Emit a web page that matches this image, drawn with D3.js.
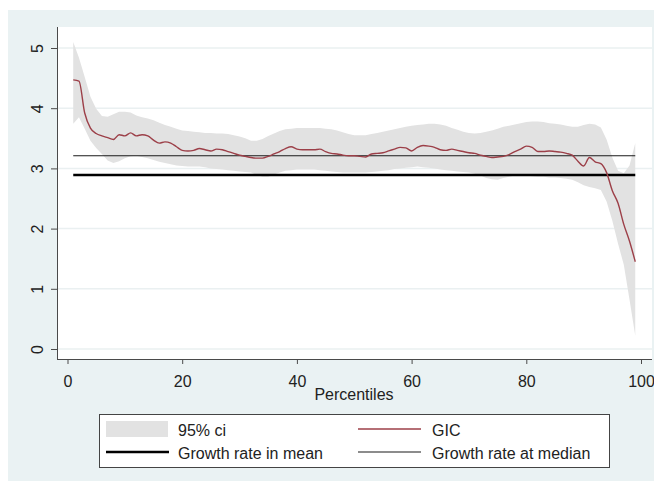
<!DOCTYPE html>
<html>
<head>
<meta charset="utf-8">
<script src="https://cdn.jsdelivr.net/npm/d3@7"></script>
<style>
  body { margin: 0; background: #fff; }
  svg { display: block; font-family: "Liberation Sans", Arial, sans-serif; }
  .axis path, .axis line { stroke: #4a4a4a; }
  .axis text { font-size: 16px; fill: #222; }
</style>
</head>
<body>
<div id="gic"></div>
<script>
// percentiles 1..99 on the x axis
const percentiles = d3.range(1, 100);

// growth incidence curve
const gic = [
  4.47, 4.45, 3.92, 3.67, 3.58, 3.54, 3.51, 3.48, 3.56, 3.54,
  3.59, 3.54, 3.56, 3.54, 3.47, 3.42, 3.44, 3.42, 3.36, 3.30,
  3.29, 3.30, 3.33, 3.31, 3.29, 3.32, 3.31, 3.28, 3.25, 3.22,
  3.20, 3.18, 3.17, 3.17, 3.20, 3.24, 3.28, 3.33, 3.36, 3.32,
  3.31, 3.31, 3.31, 3.32, 3.28, 3.25, 3.24, 3.22, 3.21, 3.21,
  3.20, 3.19, 3.24, 3.25, 3.26, 3.29, 3.32, 3.35, 3.34, 3.29,
  3.35, 3.38, 3.37, 3.35, 3.31, 3.30, 3.32, 3.30, 3.28, 3.26,
  3.25, 3.22, 3.20, 3.18, 3.19, 3.20, 3.23, 3.28, 3.32, 3.37,
  3.35, 3.28, 3.28, 3.29, 3.28, 3.27, 3.25, 3.22, 3.12, 3.04,
  3.18, 3.11, 3.08, 2.93, 2.63, 2.42, 2.07, 1.79, 1.45
];

// 95% confidence interval
const ciUpper = [
  5.10, 4.84, 4.52, 4.19, 3.99, 3.87, 3.86, 3.90, 3.94, 3.94,
  3.93, 3.88, 3.85, 3.83, 3.80, 3.76, 3.72, 3.69, 3.66, 3.63,
  3.62, 3.61, 3.60, 3.59, 3.59, 3.58, 3.58, 3.57, 3.55, 3.53,
  3.50, 3.46, 3.46, 3.49, 3.54, 3.58, 3.62, 3.65, 3.66, 3.67,
  3.67, 3.67, 3.67, 3.67, 3.66, 3.65, 3.63, 3.60, 3.57, 3.55,
  3.55, 3.55, 3.57, 3.59, 3.61, 3.63, 3.65, 3.67, 3.69, 3.71,
  3.72, 3.73, 3.74, 3.74, 3.73, 3.71, 3.67, 3.64, 3.61, 3.59,
  3.58, 3.59, 3.61, 3.63, 3.66, 3.69, 3.71, 3.73, 3.75, 3.77,
  3.78, 3.78, 3.77, 3.75, 3.74, 3.73, 3.71, 3.69, 3.69, 3.72,
  3.74, 3.73, 3.68, 3.48, 3.18, 2.96, 2.92, 3.05, 3.42
];
const ciLower = [
  3.74, 3.85, 3.66, 3.46, 3.34, 3.24, 3.13, 3.09, 3.12, 3.17,
  3.20, 3.21, 3.19, 3.17, 3.14, 3.11, 3.09, 3.07, 3.05, 3.04,
  3.03, 3.03, 3.03, 3.02, 3.00, 2.99, 2.98, 2.97, 2.96, 2.95,
  2.94, 2.93, 2.89, 2.86, 2.86, 2.90, 2.93, 2.96, 2.97, 2.98,
  2.98, 2.98, 2.98, 2.97, 2.96, 2.95, 2.94, 2.93, 2.93, 2.93,
  2.93, 2.93, 2.94, 2.95, 2.96, 2.97, 2.99, 3.00, 3.01, 3.02,
  3.03, 3.02, 3.01, 3.00, 2.98, 2.97, 2.96, 2.95, 2.94, 2.93,
  2.91, 2.88, 2.84, 2.82, 2.81, 2.84, 2.86, 2.88, 2.89, 2.88,
  2.87, 2.86, 2.86, 2.85, 2.85, 2.84, 2.83, 2.81, 2.77, 2.72,
  2.69, 2.67, 2.64, 2.45, 2.13, 1.75, 1.40, 0.82, 0.22
];

// reference growth rates
const meanGrowth = 2.89;
const medianGrowth = 3.21;

const xTicks = [0, 20, 40, 60, 80, 100];
const yTicks = [0, 1, 2, 3, 4, 5];
const legendItems = [
  {label: "95% ci", kind: "area"},
  {label: "GIC", kind: "gic"},
  {label: "Growth rate in mean", kind: "mean"},
  {label: "Growth rate at median", kind: "median"}
];

window.addEventListener("load", () => {

  const W = 654, H = 481;
  const plot = {left: 57, top: 27, right: 652, bottom: 359};

  const svg = d3.select("#gic").append("svg")
                .attr("width", W)
                .attr("height", H);

  // graph region + plot region backgrounds
  svg.append("rect")
     .attr("x", 8).attr("y", 10)
     .attr("width", W - 8).attr("height", H - 10)
     .attr("fill", "#eaf2f3");

  svg.append("rect")
     .attr("x", plot.left).attr("y", plot.top)
     .attr("width", plot.right - plot.left).attr("height", plot.bottom - plot.top)
     .attr("fill", "#ffffff");

  // scales
  const x = d3.scaleLinear().domain([0, 100]).range([67.5, 641]);
  const y = d3.scaleLinear().domain([0, 5]).range([349, 48]);

  const data = percentiles.map((p, i) => ({p: p, gic: gic[i], lo: ciLower[i], hi: ciUpper[i]}));

  // grid lines
  svg.append("g")
     .selectAll("line")
     .data(yTicks)
     .enter().append("line")
       .attr("x1", plot.left + 1)
       .attr("x2", plot.right)
       .attr("y1", d => y(d))
       .attr("y2", d => y(d))
       .attr("stroke", "#eaf0f1")
       .attr("stroke-width", 1.5);

  // confidence band
  const area = d3.area()
    .x(d => x(d.p))
    .y0(d => y(d.lo))
    .y1(d => y(d.hi));

  svg.append("path")
     .datum(data)
     .attr("fill", "#e2e2e2")
     .attr("d", area);

  // growth in mean / at median
  const pExtent = d3.extent(percentiles);

  svg.append("line")
     .attr("x1", x(pExtent[0])).attr("x2", x(pExtent[1]))
     .attr("y1", y(medianGrowth)).attr("y2", y(medianGrowth))
     .attr("stroke", "#1a1a1a")
     .attr("stroke-width", 1.2);

  svg.append("line")
     .attr("x1", x(pExtent[0])).attr("x2", x(pExtent[1]))
     .attr("y1", y(meanGrowth)).attr("y2", y(meanGrowth))
     .attr("stroke", "#000")
     .attr("stroke-width", 2.6);

  // GIC
  const line = d3.line()
    .x(d => x(d.p))
    .y(d => y(d.gic))
    .curve(d3.curveMonotoneX);

  svg.append("path")
     .datum(data)
     .attr("fill", "none")
     .attr("stroke", "#9c3f48")
     .attr("stroke-width", 1.4)
     .attr("d", line);

  // axes
  const xAxis = d3.axisBottom(x).tickValues(xTicks).tickSize(5).tickSizeOuter(0)
                  .tickFormat(d3.format("d"));
  const yAxis = d3.axisLeft(y).tickValues(yTicks).tickSize(6).tickSizeOuter(0)
                  .tickFormat(d3.format("d"));

  const gx = svg.append("g")
     .attr("class", "axis x-axis")
     .attr("transform", `translate(0,${plot.bottom})`)
     .call(xAxis);
  gx.select(".domain").attr("d", `M${plot.left},0.5H${plot.right}`);
  gx.selectAll("text").attr("y", 28).attr("dy", null);

  const gy = svg.append("g")
     .attr("class", "axis y-axis")
     .attr("transform", `translate(${plot.left},0)`)
     .call(yAxis);
  gy.select(".domain").attr("d", `M0.5,${plot.top}V${plot.bottom}`);
  gy.selectAll("text")
    .attr("x", null).attr("dy", null).attr("y", 0)
    .attr("text-anchor", "middle")
    .attr("transform", "translate(-14,0) rotate(-90)");

  // x-axis title
  svg.append("text")
     .attr("x", 354)
     .attr("y", 400)
     .attr("text-anchor", "middle")
     .attr("font-size", 16)
     .attr("fill", "#222")
     .text("Percentiles");

  // legend
  const legend = svg.append("g");
  legend.append("rect")
        .attr("x", 99.5).attr("y", 414.5)
        .attr("width", 510).attr("height", 53)
        .attr("fill", "#fff")
        .attr("stroke", "#444")
        .attr("stroke-width", 1);

  const cols = [106, 358];
  const rows = [429, 452];

  const item = legend.selectAll(".legend-item")
                     .data(legendItems)
                     .enter().append("g")
                       .attr("class", "legend-item")
                       .attr("transform", (d, i) => `translate(${cols[i % 2]},${rows[Math.floor(i / 2)]})`);

  item.each(function(d) {
    const g = d3.select(this);
    if (d.kind === "area") {
      g.append("rect")
       .attr("x", 0).attr("y", -8)
       .attr("width", 62).attr("height", 16)
       .attr("fill", "#e2e2e2");
    } else {
      const style = {
        gic: {c: "#9c3f48", w: 1.4},
        mean: {c: "#000", w: 2.6},
        median: {c: "#1a1a1a", w: 1.2}
      }[d.kind];
      g.append("line")
       .attr("x1", 0).attr("x2", 63)
       .attr("y1", 0).attr("y2", 0)
       .attr("stroke", style.c)
       .attr("stroke-width", style.w);
    }
    g.append("text")
     .attr("x", d.kind === "area" || d.kind === "mean" ? 72 : 74)
     .attr("y", 7)
     .attr("font-size", 16)
     .attr("fill", "#222")
     .text(d.label);
  });
});
</script>
</body>
</html>
